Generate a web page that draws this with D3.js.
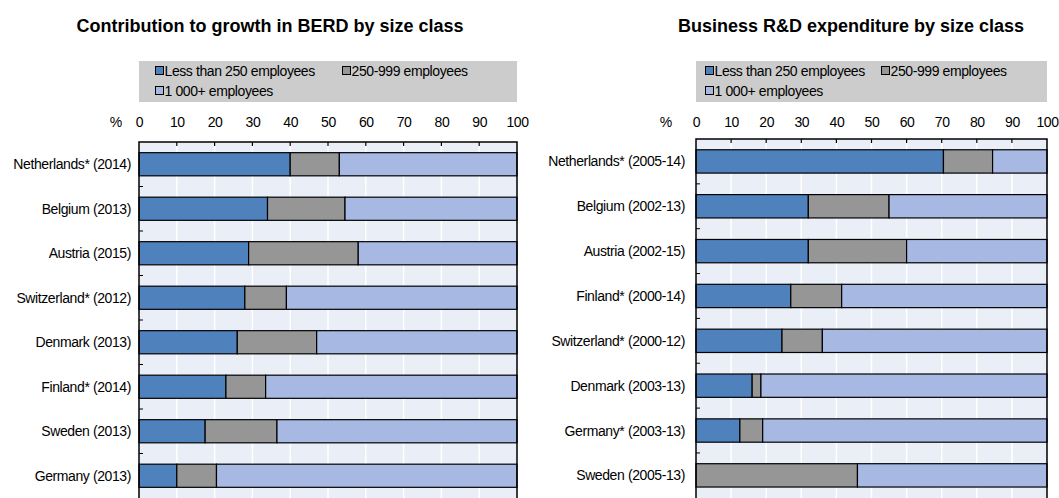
<!DOCTYPE html>
<html>
<head>
<meta charset="utf-8">
<script src="https://cdn.jsdelivr.net/npm/d3@7"></script>
<style>
  body { margin: 0; background: #fff; }
  text { font-family: "Liberation Sans", Arial, sans-serif; }
</style>
</head>
<body>
<div id="chart"></div>
<script>

//Series names and colours
var seriesNames = ["Less than 250 employees", "250-999 employees", "1 000+ employees"];
var seriesColors = ["#4f81bd", "#969696", "#a7b9e3"];

//Tick labels of the top axis
var tickValues = [0, 10, 20, 30, 40, 50, 60, 70, 80, 90, 100];

//Left panel: contribution to growth in BERD (%)
var growthCountries = ["Netherlands* (2014)", "Belgium (2013)", "Austria (2015)", "Switzerland* (2012)",
                       "Denmark (2013)", "Finland* (2014)", "Sweden (2013)", "Germany (2013)"];
var growthSmall  = [40, 34, 29, 28, 26, 23, 17.5, 10];
var growthMedium = [13, 20.5, 29, 11, 21, 10.5, 19, 10.5];
var growthLarge  = [47, 45.5, 42, 61, 53, 66.5, 63.5, 79.5];

//Right panel: business R&D expenditure (%)
var berdCountries = ["Netherlands* (2005-14)", "Belgium (2002-13)", "Austria (2002-15)", "Finland* (2000-14)",
                     "Switzerland* (2000-12)", "Denmark (2003-13)", "Germany* (2003-13)", "Sweden (2005-13)"];
var berdSmall  = [70.5, 32, 32, 27, 24.5, 16, 12.5, 0];
var berdMedium = [14, 23, 28, 14.5, 11.5, 2.5, 6.5, 46];
var berdLarge  = [15.5, 45, 40, 58.5, 64, 81.5, 81, 54];

var width = 1059, height = 498;

var svg = d3.select('#chart')
    .append('svg')
    .attr('width', width)
    .attr('height', height);

function drawPanel(cfg) {
    var g = svg.append('g');

    var x = d3.scaleLinear()
        .domain([0, 100])
        .range([cfg.left, cfg.right]);

    var y = d3.scaleBand()
        .domain(cfg.countries)
        .range([cfg.top, cfg.top + cfg.countries.length * cfg.step])
        .paddingInner(0.48)
        .paddingOuter(0.24);

    //title
    g.append('text')
        .attr('x', cfg.titleX)
        .attr('y', 32)
        .attr('text-anchor', 'middle')
        .style('font-size', '18px')
        .style('font-weight', 'bold')
        .text(cfg.title);

    //legend box
    g.append('rect')
        .attr('x', cfg.left)
        .attr('y', 61)
        .attr('width', cfg.right - cfg.left)
        .attr('height', 41)
        .attr('fill', '#cccccc');

    var legendPos = [[cfg.legendX[0], 71], [cfg.legendX[1], 71], [cfg.legendX[0], 91]];
    var legend = g.selectAll('.legend')
        .data(seriesNames)
        .enter()
        .append('g')
        .attr('transform', function (d, i) {
            return 'translate(' + legendPos[i][0] + ',' + legendPos[i][1] + ')';
        });
    legend.append('rect')
        .attr('x', 0.5)
        .attr('y', -4.5)
        .attr('width', 8)
        .attr('height', 8)
        .attr('fill', function (d, i) { return seriesColors[i]; })
        .attr('stroke', '#000')
        .attr('stroke-width', 1);
    legend.append('text')
        .attr('x', 9.5)
        .attr('y', 5)
        .style('font-size', '14px')
        .style('letter-spacing', '-0.4px')
        .text(function (d) { return d; });

    //plot background and white vertical gridlines
    g.append('rect')
        .attr('x', cfg.left)
        .attr('y', cfg.top)
        .attr('width', cfg.right - cfg.left)
        .attr('height', height - cfg.top + 10)
        .attr('fill', '#eaeef6');

    g.selectAll('.grid')
        .data(tickValues.slice(1, -1))
        .enter()
        .append('line')
        .attr('x1', function (d) { return x(d); })
        .attr('x2', function (d) { return x(d); })
        .attr('y1', cfg.top)
        .attr('y2', height + 10)
        .attr('stroke', '#fff')
        .attr('stroke-width', 1.5);

    //stacked bars
    var rows = cfg.countries.map(function (c, i) {
        return { country: c, values: [cfg.small[i], cfg.medium[i], cfg.large[i]] };
    });
    rows.forEach(function (r) {
        var start = 0;
        r.values.forEach(function (v, k) {
            if (v > 0) {
                g.append('rect')
                    .attr('x', x(start))
                    .attr('y', y(r.country))
                    .attr('width', x(start + v) - x(start))
                    .attr('height', y.bandwidth())
                    .attr('fill', seriesColors[k])
                    .attr('stroke', '#000')
                    .attr('stroke-width', 1.2);
            }
            start += v;
        });
    });

    //top axis labels
    var axis = g.append('g')
        .attr('transform', 'translate(0,' + cfg.top + ')')
        .call(d3.axisTop(x).tickValues(tickValues).tickSize(0).tickPadding(cfg.top - 127));
    axis.select('.domain').remove();
    axis.selectAll('text')
        .style('font-size', '14px')
        .style('letter-spacing', '-0.4px')
        .style('font-family', '"Liberation Sans", Arial, sans-serif')
        .attr('fill', '#000');

    g.append('text')
        .attr('x', cfg.left - cfg.pctOffset)
        .attr('y', 127)
        .attr('text-anchor', 'middle')
        .style('font-size', '14px')
        .text('%');

    //inside ticks along the top
    g.selectAll('.xtick')
        .data(tickValues.slice(1, -1))
        .enter()
        .append('line')
        .attr('x1', function (d) { return x(d); })
        .attr('x2', function (d) { return x(d); })
        .attr('y1', cfg.top)
        .attr('y2', cfg.top + 4)
        .attr('stroke', '#000')
        .attr('stroke-width', 1.2);

    //inside ticks on the category axis, at band boundaries
    g.selectAll('.ytick')
        .data(cfg.countries.slice(1))
        .enter()
        .append('line')
        .attr('x1', cfg.left)
        .attr('x2', cfg.left + 4)
        .attr('y1', function (d) { return y(d) - y.step() * 0.24; })
        .attr('y2', function (d) { return y(d) - y.step() * 0.24; })
        .attr('stroke', '#000')
        .attr('stroke-width', 1);

    //frame: top, left, right
    g.append('path')
        .attr('d', 'M' + cfg.left + ',' + (height + 10) + 'V' + cfg.top + 'H' + cfg.right + 'V' + (height + 10))
        .attr('fill', 'none')
        .attr('stroke', '#000')
        .attr('stroke-width', 1.5);

    //category labels
    g.selectAll('.cat')
        .data(cfg.countries)
        .enter()
        .append('text')
        .attr('x', cfg.left - cfg.labelGap)
        .attr('y', function (d) { return y(d) + y.bandwidth() / 2; })
        .attr('dy', '0.36em')
        .attr('text-anchor', 'end')
        .style('font-size', '14px')
        .style('letter-spacing', '-0.4px')
        .text(function (d) { return d; });
}

drawPanel({
    title: 'Contribution to growth in BERD by size class',
    titleX: 270,
    countries: growthCountries,
    small: growthSmall, medium: growthMedium, large: growthLarge,
    left: 139, right: 517, top: 142, step: 44.5,
    legendX: [155, 342],
    pctOffset: 23,
    labelGap: 8
});

drawPanel({
    title: 'Business R&D expenditure by size class',
    titleX: 851,
    countries: berdCountries,
    small: berdSmall, medium: berdMedium, large: berdLarge,
    left: 696, right: 1047, top: 139, step: 44.85,
    legendX: [705, 881],
    pctOffset: 30,
    labelGap: 11
});

</script>
</body>
</html>
